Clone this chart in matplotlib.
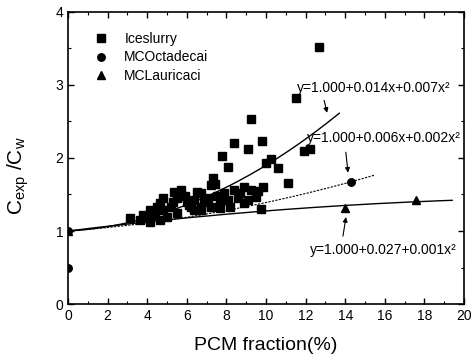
import numpy as np
import matplotlib
matplotlib.use("Agg")
import matplotlib.pyplot as plt
from matplotlib.ticker import MultipleLocator

plt.rcParams['font.family'] = ['Liberation Sans', 'DejaVu Sans']
plt.rcParams['mathtext.fontset'] = 'custom'
plt.rcParams['mathtext.rm'] = 'Liberation Sans'
plt.rcParams['mathtext.it'] = 'Liberation Sans'

# Ice slurry data (PCM fraction %, Cexp/Cw)
ice_x = [12.7, 11.5, 9.24, 8.38, 9.09, 9.8, 7.77, 8.07, 10.25, 10.0, 10.6, 11.9, 12.2,
         11.1, 7.3, 7.2, 9.85, 6.7, 6.35, 7.05, 7.7, 8.4, 8.9, 9.24, 9.5, 9.1, 8.6, 8.07,
         8.2, 7.7, 7.2, 6.7, 6.85, 6.35, 7.9, 8.7, 5.33, 5.7, 5.5, 4.8, 4.5, 4.3, 3.8, 4.0,
         3.15, 4.8, 5.2, 5.0, 5.5, 6.0, 6.5, 6.2, 6.7, 7.4, 4.67, 4.16, 4.4, 3.65, 4.67,
         4.16, 9.75, 5.9, 6.1, 5.3, 7.5, 8.9, 9.6]
ice_y = [3.52, 2.82, 2.53, 2.21, 2.13, 2.23, 2.03, 1.88, 1.98, 1.93, 1.86, 2.09, 2.12,
         1.66, 1.72, 1.63, 1.60, 1.52, 1.42, 1.45, 1.40, 1.56, 1.60, 1.56, 1.47, 1.42, 1.45,
         1.42, 1.33, 1.31, 1.33, 1.33, 1.40, 1.29, 1.52, 1.52, 1.53, 1.56, 1.45, 1.45, 1.33,
         1.25, 1.22, 1.18, 1.18, 1.29, 1.33, 1.19, 1.25, 1.40, 1.53, 1.33, 1.29, 1.65, 1.38,
         1.29, 1.22, 1.15, 1.15, 1.12, 1.30, 1.48, 1.36, 1.40, 1.48, 1.38, 1.55]

# MC Octadecane data
oct_x = [0.0, 0.0, 14.3]
oct_y = [0.50, 1.00, 1.67]

# MC Lauric acid data
lau_x = [0.0, 14.0, 17.6]
lau_y = [1.00, 1.31, 1.43]

# Fit curves: coefficients (a, b, c) for y = a + b x + c x^2 and x-range
fit_ice = [1.0, 0.015, 0.0075]
fit_ice_range = [0.0, 13.7]
fit_oct = [1.0, 0.020, 0.0019]
fit_oct_range = [0.0, 15.5]
fit_lau = [1.0, 0.0337, -0.00062]
fit_lau_range = [0.0, 19.4]

labels = ["Iceslurry", "MCOctadecai", "MCLauricaci"]
eq_texts = ["y=1.000+0.014x+0.007x²",
            "y=1.000+0.006x+0.002x²",
            "y=1.000+0.027+0.001x²"]

fig = plt.figure(figsize=(4.73, 3.63), dpi=100)
ax = fig.add_axes([0.1438, 0.1625, 0.8372, 0.8045])

ax.plot(ice_x, ice_y, 's', color='black', markersize=5.4, label=labels[0], zorder=3)
ax.plot(oct_x, oct_y, 'o', color='black', markersize=5.4, label=labels[1], zorder=3)
ax.plot(lau_x, lau_y, '^', color='black', markersize=6, label=labels[2], zorder=3)

def curve(coef, rng):
    xs = np.linspace(rng[0], rng[1], 200)
    return xs, coef[0] + coef[1] * xs + coef[2] * xs ** 2

xs, ys = curve(fit_ice, fit_ice_range)
ax.plot(xs, ys, '-', color='black', linewidth=1.0)
xs, ys = curve(fit_oct, fit_oct_range)
ax.plot(xs, ys, '--', color='black', linewidth=0.8, dashes=(2, 1.2))
xs, ys = curve(fit_lau, fit_lau_range)
ax.plot(xs, ys, '-', color='black', linewidth=1.0)

ax.set_xlim(0, 20)
ax.set_ylim(0, 4)
ax.xaxis.set_major_locator(MultipleLocator(2))
ax.xaxis.set_minor_locator(MultipleLocator(1))
ax.yaxis.set_major_locator(MultipleLocator(1))
ax.yaxis.set_minor_locator(MultipleLocator(0.5))
ax.tick_params(which='both', direction='in', top=True, right=True, labelsize=10)
ax.tick_params(which='major', length=4, width=1)
ax.tick_params(which='minor', length=2.5, width=0.8)
for s in ax.spines.values():
    s.set_linewidth(1.2)

ax.set_xlabel("PCM fraction(%)", fontsize=14, labelpad=10)
ax.set_ylabel(r"$\mathregular{C_{exp}\ /C_w}$", fontsize=15)
ax.yaxis.set_label_coords(-0.094, 0.44)

ax.legend(loc='upper left', bbox_to_anchor=(0.037, 0.965), frameon=False, fontsize=10,
          handletextpad=1.1, labelspacing=0.32, handlelength=1.2, borderaxespad=0.3)

# annotations
arrow_kw = dict(arrowstyle='-|>', color='black', lw=0.8, mutation_scale=7)
ax.annotate(eq_texts[0], xy=(13.1, 2.6), xytext=(11.55, 2.96), fontsize=10,
            arrowprops=dict(relpos=(0.17, 0.0), shrinkA=2, shrinkB=1, **arrow_kw),
            ha='left', va='center')
ax.annotate(eq_texts[1], xy=(14.15, 1.78), xytext=(12.05, 2.27), fontsize=10,
            arrowprops=dict(relpos=(0.25, 0.0), shrinkA=3, shrinkB=1, **arrow_kw),
            ha='left', va='center')
ax.annotate(eq_texts[2], xy=(14.05, 1.21), xytext=(12.2, 0.74), fontsize=10,
            arrowprops=dict(relpos=(0.22, 1.0), shrinkA=3, shrinkB=1, **arrow_kw),
            ha='left', va='center')

fig.savefig("out.png", dpi=100)
